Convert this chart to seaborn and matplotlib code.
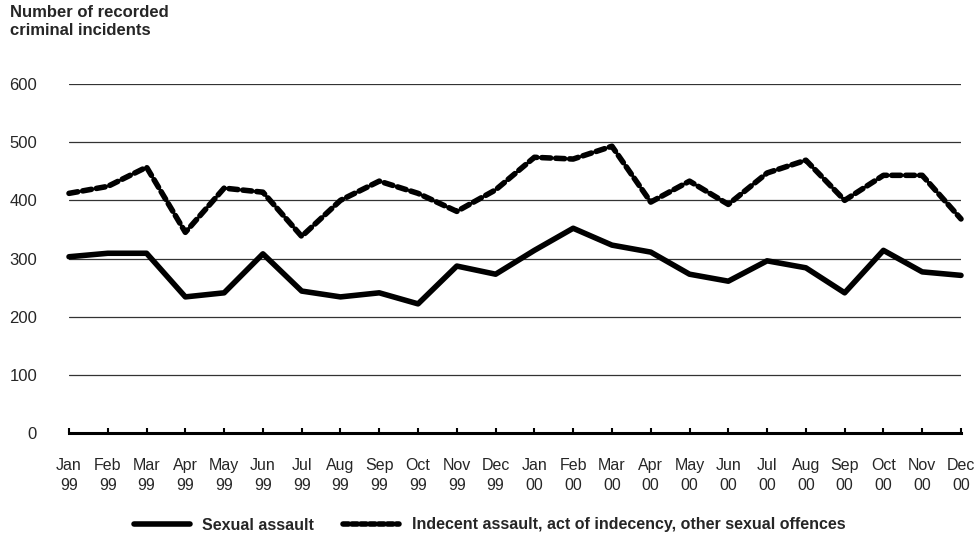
import matplotlib
matplotlib.use('Agg')
import matplotlib.pyplot as plt
from matplotlib.lines import Line2D
import seaborn as sns
import pandas as pd

# Data
months = ['Jan', 'Feb', 'Mar', 'Apr', 'May', 'Jun', 'Jul', 'Aug', 'Sep', 'Oct', 'Nov', 'Dec']
tick_labels = [m + '\n99' for m in months] + [m + '\n00' for m in months]

sexual_assault = [303, 309, 309, 234, 241, 308, 244, 234, 241, 222, 287, 273,
                  314, 352, 323, 311, 273, 261, 296, 284, 241, 314, 277, 271]
indecent_assault = [412, 424, 457, 345, 421, 414, 338, 400, 433, 412, 381, 418,
                    474, 471, 493, 397, 433, 393, 447, 469, 400, 443, 443, 368]

series_names = ['Sexual assault', 'Indecent assault, act of indecency, other sexual offences']

df = pd.DataFrame({
    'month': list(range(len(tick_labels))) * 2,
    'count': sexual_assault + indecent_assault,
    'series': [series_names[0]] * len(sexual_assault) + [series_names[1]] * len(indecent_assault),
})

sns.set_style('white')
plt.rcParams['font.family'] = ['Liberation Sans Narrow', 'Liberation Sans', 'DejaVu Sans']

fig = plt.figure(figsize=(9.79, 5.41), dpi=100)
ax = fig.add_axes([69 / 979, 1 - 433 / 541, (961 - 69) / 979, (433 - 84) / 541])

sns.lineplot(data=df, x='month', y='count', hue='series', style='series',
             palette=['black', 'black'], dashes=[(None, None), (1.6, 0.9)],
             linewidth=4, ax=ax, legend=False)
for line in ax.lines:
    line.set_dash_capstyle('round')
    line.set_clip_on(False)

ax.set_ylim(0, 600)
ax.set_xlim(0, len(tick_labels) - 1)
ax.set_yticks(range(0, 601, 100))
ax.set_xticks(range(len(tick_labels)))
ax.set_xticklabels(tick_labels, fontsize=11.5, linespacing=1.45)
ax.tick_params(axis='y', labelsize=12, length=0, pad=23)
ax.tick_params(axis='x', bottom=True, direction='in', length=3.5, width=1.5, color='black', pad=18)
ax.grid(axis='y', color='#333333', linewidth=0.9)
ax.grid(axis='x', visible=False)
ax.set_xlabel('')
ax.set_ylabel('')
for side in ['top', 'right', 'left']:
    ax.spines[side].set_visible(False)
ax.spines['bottom'].set_color('black')
ax.spines['bottom'].set_linewidth(2.2)

fig.text(10 / 979, 1 - 5 / 541, 'Number of recorded\ncriminal incidents',
         fontsize=12, fontweight='bold', va='top', ha='left', linespacing=1.25)

# Legend
handles = [
    Line2D([0], [0], color='black', linewidth=4, solid_capstyle='round'),
    Line2D([0], [0], color='black', linewidth=4, linestyle=(0, (1.0, 0.6)), dash_capstyle='round'),
]
fig.legend(handles, series_names, loc='center', bbox_to_anchor=(0.5, 1 - 525 / 541),
           ncol=2, frameon=False, handlelength=3.5, columnspacing=1.8,
           prop={'size': 11.5, 'weight': 'bold'})

fig.savefig('out.png', dpi=100)
